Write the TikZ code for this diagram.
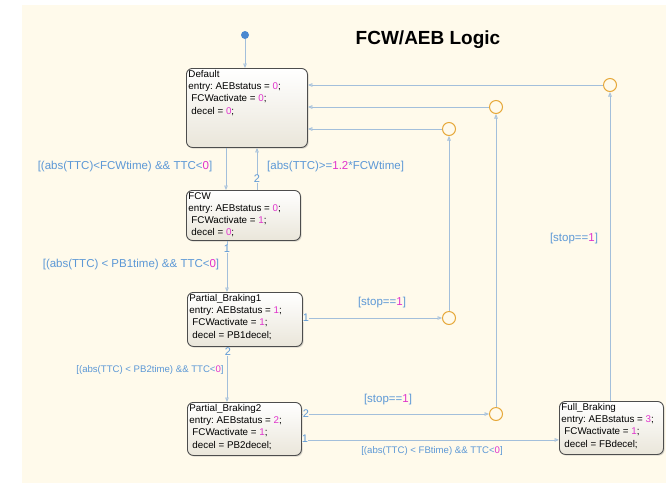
\documentclass[tikz,border=0pt]{standalone}
\usepackage{fontspec}
\setmainfont{Liberation Sans}
\usepackage{xcolor}
\usetikzlibrary{arrows.meta,calc,shadows}
\definecolor{chartbg}{HTML}{FFFAEB}
\definecolor{wireblue}{HTML}{A3BFDB}
\definecolor{guardblue}{HTML}{5C98D6}
\definecolor{valpink}{HTML}{E033CC}
\definecolor{junctionorange}{HTML}{E6A83A}
\definecolor{dotblue}{HTML}{4A88D0}
\definecolor{stateedge}{HTML}{4D4D4D}
\definecolor{statebottom}{HTML}{EAE6DA}
\newcommand{\val}[1]{\textcolor{valpink}{#1}}
\newcommand{\statebody}[3]{\parbox[t][#2][t]{#1}{\raggedright #3}}
\frenchspacing

\begin{document}
\begin{tikzpicture}[x=1pt,y=-1pt,
    state/.style={draw=stateedge,line width=0.9pt,rounded corners=6pt,
      top color=white,bottom color=statebottom,anchor=north west,
      drop shadow={shadow xshift=1.2pt,shadow yshift=-1.2pt,opacity=0.3},
      inner sep=2pt,font=\fontsize{9.8}{12.2}\selectfont},
    wire/.style={draw=wireblue,line width=0.8pt,
      -{Triangle[open,length=4.5pt,width=3.6pt]}},
    junction/.style={circle,draw=junctionorange,line width=1pt,
      minimum size=13pt,inner sep=0pt},
    guard/.style={text=guardblue,font=\fontsize{11.5}{13}\selectfont,inner sep=0pt},
    smallguard/.style={guard,font=\fontsize{9.6}{11}\selectfont},
    port/.style={text=guardblue,fill=chartbg,font=\fontsize{11}{12}\selectfont,
      inner sep=0.4pt}]
    \useasboundingbox (0,0) rectangle (666,483);
    \fill[white] (0,0) rectangle (666,483);
    \fill[chartbg] (22,5) rectangle (666,483);

    \node[font=\bfseries\fontsize{19}{22}\selectfont] (title) at (428,40)
      {FCW/AEB Logic};

    \node[state] (default) at (186,68)
      {\statebody{117pt}{75pt}{Default\\entry: AEBstatus = \val{0};\\
       \hspace*{3pt}FCWactivate = \val{0};\\\hspace*{3pt}decel = \val{0};}};
    \node[state] (fcw) at (186,190)
      {\statebody{110pt}{46pt}{FCW\\entry: AEBstatus = \val{0};\\
       \hspace*{3pt}FCWactivate = \val{1};\\\hspace*{3pt}decel = \val{0};}};
    \node[state] (pb1) at (187,292)
      {\statebody{111pt}{50pt}{Partial\_Braking1\\entry: AEBstatus = \val{1};\\
       \hspace*{3pt}FCWactivate = \val{1};\\\hspace*{3pt}decel = PB1decel;}};
    \node[state] (pb2) at (187,402)
      {\statebody{110pt}{49pt}{Partial\_Braking2\\entry: AEBstatus = \val{2};\\
       \hspace*{3pt}FCWactivate = \val{1};\\\hspace*{3pt}decel = PB2decel;}};
    \node[state] (fullbrk) at (559,401)
      {\statebody{100pt}{49pt}{Full\_Braking\\entry: AEBstatus = \val{3};\\
       \hspace*{3pt}FCWactivate = \val{1};\\\hspace*{3pt}decel = FBdecel;}};

    \node[circle,fill=dotblue,minimum size=8pt,inner sep=0pt] (initdot) at (245,35) {};
    \node[junction] (jstopA) at (449,129) {};
    \node[junction] (jstopB) at (496,107) {};
    \node[junction] (jstopC) at (610,85) {};
    \node[junction] (jpb1) at (449,318) {};
    \node[junction] (jpb2) at (496,414) {};

    \draw[wire] (initdot) -- (initdot |- default.north);
    \draw[wire] ([xshift=40pt]default.south west) -- ([xshift=40pt]fcw.north west);
    \draw[wire] ([xshift=71pt]fcw.north west) -- ([xshift=71pt]default.south west);
    \draw[wire] ([xshift=41pt]fcw.south west) -- ([xshift=40pt]pb1.north west);
    \draw[wire] ([xshift=40pt]pb1.south west) -- ([xshift=40pt]pb2.north west);
    \draw[wire] (pb1.east |- jpb1) -- (jpb1);
    \draw[wire] (pb2.east |- jpb2) -- (jpb2);
    \draw[wire] ([yshift=16pt]pb2.south east) -- ([yshift=15pt]fullbrk.south west);
    \draw[wire] (fullbrk.north -| jstopC) -- (jstopC);
    \draw[wire] (jpb1) -- (jstopA);
    \draw[wire] (jpb2) -- (jstopB);
    \draw[wire] (jstopA) -- (jstopA -| default.east);
    \draw[wire] (jstopB) -- (jstopB -| default.east);
    \draw[wire] (jstopC) -- (jstopC -| default.east);

    \node[port] (fcwup) at (257,179) {2};
    \node[port] (fcwdown) at (227,249) {1};
    \node[port] (pb1down) at (228,352) {2};
    \node[port] (pb1stop) at (306,318) {1};
    \node[port] (pb2stop) at (306,414) {2};
    \node[port] (pb2full) at (305,439) {1};

    \node[guard] (gfcw) at (125,167) {[(abs(TTC)<FCWtime) \&\& TTC<\val{0}]};
    \node[guard,anchor=west] (gback) at (267,167) {[abs(TTC)>=\val{1.2}*FCWtime]};
    \node[guard] (gpb1) at (131,265) {[(abs(TTC) < PB1time) \&\& TTC<\val{0}]};
    \node[smallguard] (gpb2) at (150,370) {[(abs(TTC) < PB2time) \&\& TTC<\val{0}]};
    \node[smallguard] (gfull) at (432,451) {[(abs(TTC) < FBtime) \&\& TTC<\val{0}]};
    \node[guard] (gstop1) at (382,303) {[stop==\val{1}]};
    \node[guard] (gstop2) at (388,400) {[stop==\val{1}]};
    \node[guard] (gstop3) at (574,239) {[stop==\val{1}]};
  \end{tikzpicture}
\end{document}
